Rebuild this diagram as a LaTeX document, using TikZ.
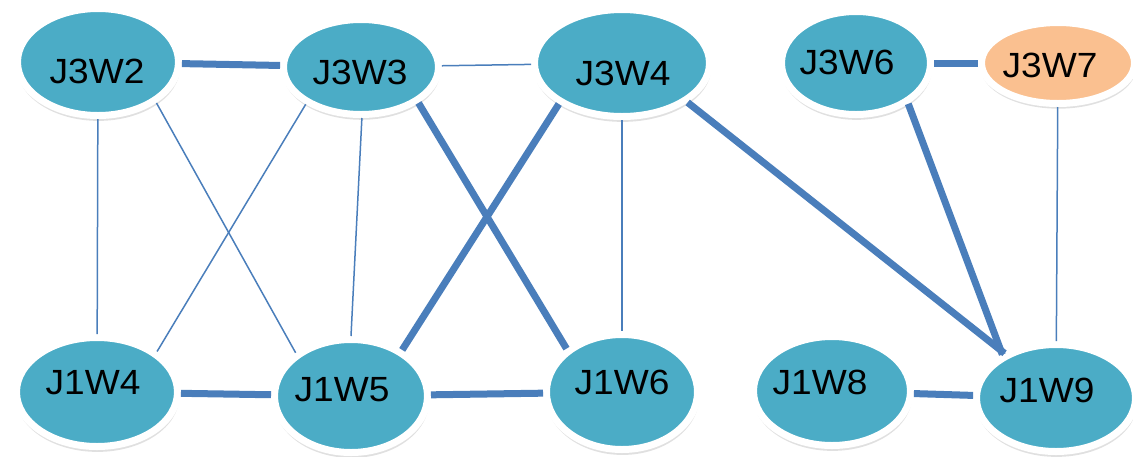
\documentclass[tikz,border=0pt]{standalone}
\usepackage{fontspec}
\setmainfont{Liberation Sans}[FakeStretch=1.06]
\usetikzlibrary{shapes.geometric,shadows}
\definecolor{nodeteal}{HTML}{4BACC6}
\definecolor{nodepeach}{HTML}{FAC090}
\definecolor{linkblue}{HTML}{4A7EBB}
\begin{document}
\begin{tikzpicture}[x=1pt,y=-1pt,
  station/.style={ellipse, draw=white, line width=7pt, fill=nodeteal, inner sep=0pt,
    drop shadow={opacity=0.2, shadow xshift=0.5pt, shadow yshift=-4.5pt, shadow scale=1.015, fill=black!60}},
  peach/.style={station, fill=nodepeach},
  tag/.style={font=\fontsize{35}{35}\selectfont, inner sep=0pt, text=black},
  weak/.style={draw=linkblue, line width=1.5pt},
  strong/.style={draw=linkblue, line width=7pt}]
\useasboundingbox (0,0) rectangle (1133,456);

% top row
\node[station, minimum width=161pt, minimum height=107pt] (J3W2) at (98,62) {};
\node[station, minimum width=155pt, minimum height=95pt]  (J3W3) at (361,67) {};
\node[station, minimum width=175pt, minimum height=107pt] (J3W4) at (622,63) {};
\node[station, minimum width=149pt, minimum height=103pt] (J3W6) at (856,63) {};
\node[peach,   minimum width=153pt, minimum height=81pt]  (J3W7) at (1058,63) {};
% bottom row
\node[station, minimum width=161pt, minimum height=109pt] (J1W4) at (97,392) {};
\node[station, minimum width=153pt, minimum height=113pt] (J1W5) at (351,396) {};
\node[station, minimum width=151pt, minimum height=115pt] (J1W6) at (622,392) {};
\node[station, minimum width=157pt, minimum height=109pt] (J1W8) at (832,391) {};
\node[station, minimum width=159pt, minimum height=107pt] (J1W9) at (1056,398) {};

% labels
\node[tag] (J3W2t) at (97,71)   {J3W2};
\node[tag] (J3W3t) at (360,72)  {J3W3};
\node[tag] (J3W4t) at (623,73)  {J3W4};
\node[tag] (J3W6t) at (847,62)  {J3W6};
\node[tag] (J3W7t) at (1050,65) {J3W7};
\node[tag] (J1W4t) at (93,383)  {J1W4};
\node[tag] (J1W5t) at (342,390) {J1W5};
\node[tag] (J1W6t) at (622,382) {J1W6};
\node[tag] (J1W8t) at (820,382) {J1W8};
\node[tag] (J1W9t) at (1047,390) {J1W9};

% links
\draw[strong] (J3W2) -- (J3W3);
\draw[weak]   (J3W3) -- (J3W4);
\draw[weak]   (J3W2) -- (J1W4);
\draw[weak]   (J3W2.-35) -- (J1W5.142);
\draw[weak]   (J3W3.-146) -- (J1W4.34);
\draw[weak]   (J3W3.-89) -- (J1W5.90);
\draw[strong] (J3W3.-32) -- (J1W6.142);
\draw[strong] (J3W4.-147) -- (J1W5.42);
\draw[weak]   (J3W4) -- (J1W6);
\draw[strong] (J3W4.-31) -- (J1W9.139);
\draw[strong] (J3W6) -- (J3W7);
\draw[strong] (J3W6.-38) -- (J1W9.141);
\draw[weak]   (J3W7) -- (J1W9);
\draw[strong] (J1W4) -- (J1W5);
\draw[strong] (J1W5) -- (J1W6);
\draw[strong] (J1W8) -- (J1W9);
\end{tikzpicture}
\end{document}
